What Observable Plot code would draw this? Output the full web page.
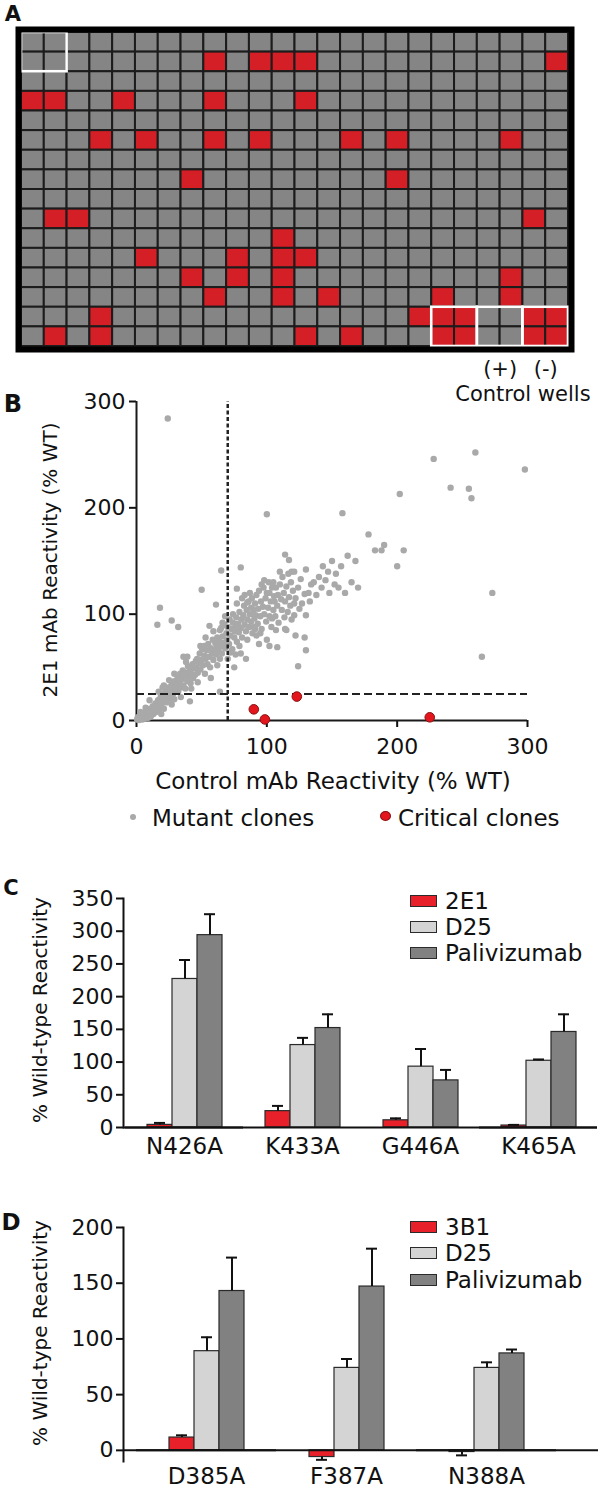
<!DOCTYPE html>
<html><head><meta charset="utf-8">
<script src="https://cdn.jsdelivr.net/npm/d3@7"></script>
<script src="https://cdn.jsdelivr.net/npm/@observablehq/plot@0.6"></script>
<style>
body{margin:0;background:#fff;}
#fig{position:relative;width:600px;height:1493px;font-family:"DejaVu Sans",sans-serif;color:#111;overflow:hidden;background:#fff;}
#fig svg{position:absolute;left:0;overflow:visible;}
</style></head><body><div id="fig"></div>
<script>
// ---------- Panel A: 384-well plate ----------
const plateCols = 24;
const plateRows = 16;
// [row, col] of red (non-binding) wells, including control wells
const redWells = [
 [1,8],[1,10],[1,11],[1,12],[1,23],
 [3,0],[3,1],[3,4],[3,8],[3,12],
 [5,3],[5,5],[5,8],[5,10],[5,14],[5,16],[5,21],
 [7,7],[7,16],
 [9,1],[9,2],[9,22],
 [10,11],
 [11,5],[11,9],[11,11],[11,12],
 [12,7],[12,9],[12,11],[12,21],
 [13,8],[13,11],[13,13],[13,18],[13,21],
 [14,3],[14,17],[14,18],[14,19],[14,22],[14,23],
 [15,1],[15,3],[15,12],[15,14],[15,18],[15,19],[15,22],[15,23]
];
const outlinedBlocks = [{col:0,row:0,span:2},{col:18,row:14,span:2},{col:20,row:14,span:2},{col:22,row:14,span:2}];
const controlSigns = [{text:"(+)",col:20,span:2},{text:"(-)",col:22,span:2}];
const controlCaption = [{text:"Control wells",col:20,span:4}];

// ---------- Panel B: scatter ----------
const cutoffControl = 70;
const cutoff2E1 = 25;
const axisTicksB = [0,100,200,300];
const mutantClones = [
 [0.5,1],[1,3],[2,0.5],[2.5,4],[3,2],[4,6],[4.5,1],[5,3.5],[6,7],[6.5,2],[7,4.5],[8,9],[8.5,5],[9,2.5],[10,7],[10.5,11],[11,4],[12,9],[12.5,13.5],[13,6],[14,10],[14.5,16],[15,8],[3,8],[7,12],
 [16,13],[16.5,19],[17,10],[18,16],[18.5,22],[19,14],[20,25],[20.5,18],[21,11],[22,21],[22.5,28],[23,17],[24,24],[24.5,31],[25,19],[26,27],[26.5,22],[27,34],[28,25],[28.5,30],[29,37],[30,28],[17,27],[21,33],[25,38],[27,15],[29,20],[19,6],
 [31,33],[31.5,40],[32,27],[33,36],[33.5,44],[34,31],[35,39],[35.5,47],[36,33],[37,42],[37.5,30],[38,45],[39,37],[39.5,51],[40,41],[41,48],[41.5,35],[42,44],[43,53],[43.5,40],[44,49],[45,43],[45.5,56],[34,22],[38,55],[42,30],[36,60],
 [46,50],[46.5,58],[47,45],[48,54],[48.5,63],[49,48],[50,57],[50.5,67],[51,52],[52,61],[52.5,44],[53,58],[54,66],[54.5,53],[55,72],[56,60],[56.5,50],[57,68],[58,63],[58.5,76],[59,57],[60,66],[60.5,73],[47,36],[53,78],[57,40],[49,70],[59,84],
 [61,62],[61.5,70],[62,78],[63,66],[63.5,74],[64,85],[65,70],[65.5,63],[66,79],[67,73],[67.5,90],[68,68],[69,82],[69.5,76],[70,88],[71,72],[71.5,95],[72,80],[73,86],[73.5,67],[74,92],[75,78],[75.5,84],[62,52],[66,92],[70,58],[74,100],[68,98],[72,64],[64,58],
 [76,88],[76.5,97],[77,74],[78,91],[78.5,83],[79,102],[80,87],[80.5,95],[81,78],[82,99],[82.5,108],[83,90],[84,84],[84.5,104],[85,95],[86,112],[86.5,88],[87,100],[88,93],[88.5,115],[89,82],[90,104],[90.5,96],[77,110],[81,115],[85,76],[88,106],[79,70],[83,118],[87,120],[90,88],[76,62],[84,58],
 [91,110],[91.5,99],[92,118],[93,91],[93.5,105],[94,122],[95,98],[95.5,112],[96,86],[97,107],[97.5,125],[98,100],[99,115],[99.5,93],[100,120],[101,106],[101.5,130],[102,98],[103,112],[103.5,88],[104,125],[105,104],[105.5,117],[92,80],[96,128],[100,76],[104,96],[98,132],[94,72],[102,120],[91,86],[105,130],
 [106,112],[106.5,98],[107,125],[108,108],[108.5,118],[109,92],[110,128],[111,114],[111.5,104],[112,135],[113,120],[113.5,97],[114,112],[115,126],[116,102],[116.5,138],[117,116],[118,108],[118.5,130],[119,95],[120,122],[107,85],[110,140],[114,86],[119,140],
 [121,140],[121,110],[121,99],[122,80],[124,125],[124,51],[126,133],[127,110],[129,119],[129,78],[130,142],[130,99],[130,66],[132,120],[134,128],[125,105],[122,115],[133,112],
 [18,106],[16,90],[27,94],[32,88],[50,123],[56,89],[61,109],[65,87],[65,141],[80,144],[77,124],[85,111],[100,194],[114,156],[117,151],
 [41,18],[64,27],[31,27],[10,19],[20,31],[29,44],[39,60],[52,70],[75,50],[80,63],[102,70],[108,69],[95,82],[115,85],
 [136,130],[138,118],[140,135],[142,125],[143,145],[145,132],[147,140],[148,120],[150,150],[152,128],[153,138],[155,125],[157,145],[158,195],[160,120],[162,155],[165,130],[168,150],[170,125],
 [178,175],[183,160],[188,160],[190,165],[200,145],[202,213],[205,160],[228,246],[241,219],[255,218],[257,209],[260,252],[265,60],[273,120],[298,236],[24,284]
];
const criticalClones = [[90,10.5],[98.5,1],[123,22.5],[225,3]];

// ---------- Panel C ----------
const mutantsC = ["N426A","K433A","G446A","K465A"];
const antibodiesC = ["2E1","D25","Palivizumab"];
const meanC_2E1 = [4, 25, 11, 3];
const meanC_D25 = [227, 126, 93, 102];
const meanC_Pali = [294, 152, 72, 146];
const errC_2E1 = [3, 8, 3, 1];
const errC_D25 = [29, 11, 27, 2];
const errC_Pali = [32, 21, 16, 27];
const ticksC = [0,50,100,150,200,250,300,350];

// ---------- Panel D ----------
const mutantsD = ["D385A","F387A","N388A"];
const antibodiesD = ["3B1","D25","Palivizumab"];
const meanD_3B1 = [11.5, -6, -1.5];
const meanD_D25 = [89, 74, 74];
const meanD_Pali = [143, 147, 87];
const errD_3B1 = [2, 2.5, 3];
const errD_D25 = [12.5, 8, 5];
const errD_Pali = [30, 34, 3.5];
const ticksD = [0,50,100,150,200];

const barColors = ["#e8202a","#d4d4d4","#818181"];
const FONT = "'DejaVu Sans', sans-serif";
const baseStyle = {fontFamily: FONT, fontSize: "22px", color: "#111", background: "transparent", overflow: "visible"};

const fig = document.getElementById("fig");
function place(svg, top) { svg.style.top = top + "px"; fig.appendChild(svg); }
function label(text, x, y, o = {}) {
  const d = document.createElement("div");
  d.textContent = text;
  const tx = o.anchor === "start" ? "0" : "-50%";
  d.style.cssText = `position:absolute;left:${x}px;top:${y}px;white-space:nowrap;line-height:1;font-family:${FONT};font-size:${o.size||22}px;font-weight:${o.weight||"normal"};color:#111;transform:translate(${tx},-50%)${o.rotate ? ` rotate(${o.rotate}deg)` : ""};`;
  fig.appendChild(d);
  return d;
}

// ---- A ----
const redSet = new Set(redWells.map(([r,c]) => r + "-" + c));
const wells = [];
for (let r = 0; r < plateRows; r++) for (let c = 0; c < plateCols; c++) wells.push({row: r, col: c, hit: redSet.has(r + "-" + c)});

const plotA = Plot.plot({
  width: 600, height: 410, marginLeft: 21, marginRight: 32, marginTop: 32, marginBottom: 64,
  style: baseStyle,
  x: {domain: [0, plateCols], axis: null},
  y: {domain: [plateRows, 0], axis: null},
  marks: [
    Plot.rect(wells, {x1: "col", x2: d => d.col + 1, y1: "row", y2: d => d.row + 1, fill: d => d.hit ? "#d41f26" : "#858585", stroke: "#1c1c1c", strokeWidth: 2}),
    Plot.rect(outlinedBlocks, {x1: "col", x2: d => d.col + d.span, y1: "row", y2: d => d.row + d.span, fill: "none", stroke: "#fff", strokeWidth: 2.6}),
    Plot.frame({stroke: "#000", strokeWidth: 6, inset: -3}),
    Plot.text(controlSigns, {x: d => d.col + d.span / 2, y: plateRows, text: "text", dy: 23, fontSize: 21, fill: "#111"}),
    Plot.text(controlCaption, {x: d => d.col + d.span / 2, y: plateRows, text: "text", dy: 48, fontSize: 21, fill: "#111"})
  ]
});
place(plotA, 0);
label("A", 13, 14, {size: 21, weight: "bold"});

// ---- B ----
const plotB = Plot.plot({
  width: 600, height: 400, marginTop: 21, marginBottom: 60, marginLeft: 136, marginRight: 73,
  style: baseStyle,
  x: {domain: [0, 300]}, y: {domain: [0, 300]},
  marks: [
    Plot.axisY({ticks: axisTicksB, tickSize: 7, tickPadding: 4, strokeWidth: 2, label: null}),
    Plot.axisX({ticks: axisTicksB, tickSize: 7, tickPadding: 11, strokeWidth: 2, label: null}),
    Plot.ruleX([0], {y1: 0, y2: 300, strokeWidth: 2, stroke: "#1a1a1a"}),
    Plot.ruleY([0], {x1: 0, x2: 300, strokeWidth: 2, stroke: "#1a1a1a"}),
    Plot.dot(mutantClones, {x: d => d[0], y: d => d[1], r: 3.2, fill: "#a9a9a9"}),
    Plot.ruleX([cutoffControl], {y1: 0, y2: 300, strokeWidth: 2.5, stroke: "#222", strokeDasharray: "4,2.5"}),
    Plot.ruleY([cutoff2E1], {x1: 0, x2: 300, strokeWidth: 2, stroke: "#222", strokeDasharray: "8,4"}),
    Plot.dot(criticalClones, {x: d => d[0], y: d => d[1], r: 4.8, fill: "#e3161d", stroke: "#8a0f12", strokeWidth: 1})
  ]
});
place(plotB, 380);
label("B", 13, 404, {size: 24, weight: "bold"});
label("2E1 mAb Reactivity (% WT)", 50, 560, {size: 20, rotate: -90});
label("Control mAb Reactivity (% WT)", 333, 781, {size: 23});
{
  const dot1 = document.createElement("div");
  dot1.style.cssText = "position:absolute;left:130px;top:814px;width:6px;height:6px;border-radius:50%;background:#a9a9a9;";
  fig.appendChild(dot1);
  label("Mutant clones", 152, 818, {size: 23, anchor: "start"});
  const dot2 = document.createElement("div");
  dot2.style.cssText = "position:absolute;left:380px;top:811px;width:11px;height:10px;border-radius:50%;background:#e3161d;border:1px solid #8a0f12;box-sizing:border-box;";
  fig.appendChild(dot2);
  label("Critical clones", 398, 818, {size: 23, anchor: "start"});
}

// ---- grouped bars helper ----
function buildRows(mutants, antibodies, means, errs) {
  const rows = [];
  mutants.forEach((m, i) => antibodies.forEach((a, j) => {
    const v = means[j][i], e = errs[j][i];
    rows.push({mutant: m, antibody: a, value: v, errEnd: v + (v < 0 ? -e : e)});
  }));
  return rows;
}
function groupedBars(rows, mutants, antibodies, ticks, yDomain, cfg) {
  const s = cfg.shift; // distance from the y axis to the first group facet
  return Plot.plot({
    width: 600, height: cfg.height, marginTop: cfg.marginTop, marginBottom: cfg.marginBottom,
    marginLeft: 122 + s, marginRight: 2 + cfg.rightExt,
    style: baseStyle,
    fx: {domain: mutants, padding: 0, label: null},
    x: {domain: antibodies, paddingInner: 0, paddingOuter: cfg.xOuter, axis: null},
    y: {domain: yDomain},
    color: {domain: antibodies, range: barColors},
    marks: [
      Plot.barY(rows, {fx: "mutant", x: "antibody", y1: 0, y2: "value", fill: "antibody", stroke: "#2a2a2a", strokeWidth: 1.2}),
      Plot.ruleX(rows, {fx: "mutant", x: "antibody", y1: "value", y2: "errEnd", stroke: "#111", strokeWidth: 2}),
      Plot.tickY(rows, {fx: "mutant", x: "antibody", y: "errEnd", stroke: "#111", strokeWidth: 2, insetLeft: 7, insetRight: 7}),
      Plot.ruleY([0], {stroke: "#111", strokeWidth: 2}),
      Plot.ruleY([0], {facetAnchor: "left", insetLeft: -s, stroke: "#111", strokeWidth: 2}),
      Plot.ruleY([0], {facetAnchor: "right", insetRight: -cfg.rightExt, stroke: "#111", strokeWidth: 2}),
      Plot.frame({anchor: "left", facetAnchor: "left", dx: -s, stroke: "#111", strokeWidth: 2}),
      Plot.axisY({ticks: ticks, facetAnchor: "left", dx: -s, tickSize: 7, tickPadding: 3, strokeWidth: 2, label: null}),
      Plot.axisFx({anchor: "bottom", tickSize: 0, tickPadding: cfg.fxPad, fontSize: 23, label: null})
    ]
  });
}
function legend(antibodies, yCenters) {
  antibodies.forEach((a, i) => {
    const s = document.createElement("div");
    s.style.cssText = `position:absolute;left:410px;top:${yCenters[i]-6}px;width:27px;height:12px;background:${barColors[i]};border:1px solid #2a2a2a;box-sizing:border-box;`;
    fig.appendChild(s);
    label(a, 445, yCenters[i], {size: 23, anchor: "start"});
  });
}

// ---- C ----
const rowsC = buildRows(mutantsC, antibodiesC, [meanC_2E1, meanC_D25, meanC_Pali], [errC_2E1, errC_D25, errC_Pali]);
const plotC = groupedBars(rowsC, mutantsC, antibodiesC, ticksC, [0, 350], {height: 290, marginTop: 28, marginBottom: 33, shift: 2, rightExt: 0, xOuter: 0.79, fxPad: 10});
place(plotC, 870);
label("C", 11, 888, {size: 21, weight: "bold"});
label("% Wild-type Reactivity", 40, 1010, {size: 20, rotate: -90});
legend(antibodiesC, [901, 927, 953]);

// ---- D ----
const rowsD = buildRows(mutantsD, antibodiesD, [meanD_3B1, meanD_D25, meanD_Pali], [errD_3B1, errD_D25, errD_Pali]);
const plotD = groupedBars(rowsD, mutantsD, antibodiesD, ticksD, [-10, 200], {height: 293, marginTop: 27, marginBottom: 32, shift: 13, rightExt: 42, xOuter: 1.24, fxPad: 6});
place(plotD, 1200);
label("D", 11, 1222, {size: 23, weight: "bold"});
label("% Wild-type Reactivity", 40, 1333, {size: 20, rotate: -90});
legend(antibodiesD, [1227, 1253, 1280]);
</script></body></html>
